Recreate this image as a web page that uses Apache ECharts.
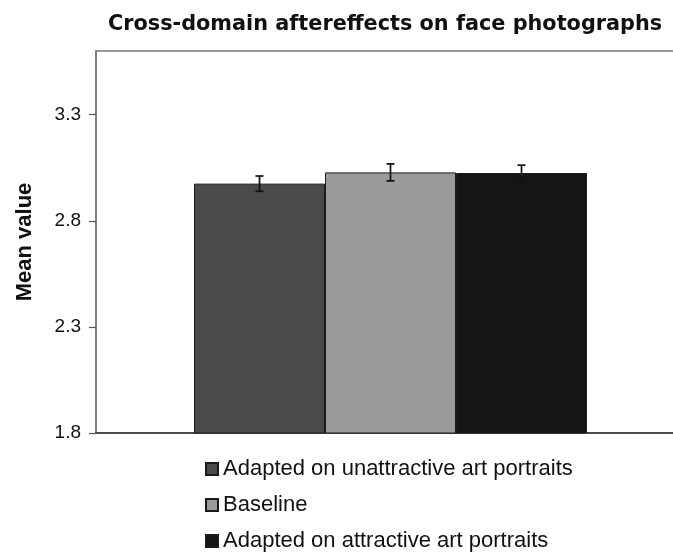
<!DOCTYPE html>
<html>
<head>
<meta charset="utf-8">
<script src="https://cdn.jsdelivr.net/npm/echarts@6/dist/echarts.min.js"></script>
<style>
  html, body { margin: 0; padding: 0; background: #fff; }
  #chart { width: 673px; height: 552px; }
</style>
</head>
<body>
<div id="chart"></div>
<script>
// data
const categories = ['Cross-domain']
const seriesNames = [
  'Adapted on unattractive art portraits',
  'Baseline',
  'Adapted on attractive art portraits',
]
const means = [2.975, 3.028, 3.025]
const errors = [0.036, 0.04, 0.037]
const barColors = ['#4a4a4a', '#9a9a9a', '#151515']
const yTicks = [1.8, 2.3, 2.8, 3.3]

const barWidth = 131

const chart = echarts.init(document.getElementById('chart'))

const barSeries = seriesNames.map((name, i) => ({
  name: name,
  type: 'bar',
  data: [means[i]],
  barWidth: barWidth,
  barGap: 0,
  itemStyle: {
    color: barColors[i],
    borderColor: '#1a1a1a',
    borderWidth: 1,
  },
}))

// error bars, one per bar, placed by offset from the category centre
const errorData = means.map((m, i) => [0, m - errors[i], m + errors[i], i])

const errorSeries = {
  type: 'custom',
  silent: true,
  data: errorData,
  renderItem: (params, api) => {
    const idx = api.value(3)
    const low = api.coord([api.value(0), api.value(1)])
    const high = api.coord([api.value(0), api.value(2)])
    const x = low[0] + (idx - 1) * barWidth
    const cap = 4
    const style = { stroke: '#111', lineWidth: 1.7 }
    return {
      type: 'group',
      children: [
        { type: 'line', shape: { x1: x, y1: low[1], x2: x, y2: high[1] }, style },
        { type: 'line', shape: { x1: x - cap, y1: low[1], x2: x + cap, y2: low[1] }, style },
        { type: 'line', shape: { x1: x - cap, y1: high[1], x2: x + cap, y2: high[1] }, style },
      ],
    }
  },
  z: 5,
}

chart.setOption({
  animation: false,
  title: {
    text: 'Cross-domain aftereffects on face photographs',
    left: 108,
    top: 14,
    padding: 0,
    textStyle: {
      fontFamily: 'DejaVu Sans',
      fontWeight: 'bold',
      fontSize: 20.8,
      color: '#111',
    },
  },
  legend: {
    orient: 'vertical',
    left: 205,
    top: 458,
    padding: 0,
    itemWidth: 12,
    itemHeight: 12,
    itemGap: 14,
    icon: 'rect',
    data: seriesNames,
    textStyle: {
      fontFamily: 'Liberation Sans',
      fontSize: 22,
      lineHeight: 22,
      color: '#111',
    },
  },
  grid: {
    left: 96,
    right: -12,
    top: 51,
    bottom: 119,
    outerBoundsMode: 'none',
    containLabel: false,
    show: true,
    borderColor: '#777',
    borderWidth: 1.5,
    backgroundColor: '#fff',
  },
  xAxis: {
    type: 'category',
    data: categories,
    axisLine: { show: true, lineStyle: { color: '#333', width: 1.5 } },
    axisTick: { show: false },
    axisLabel: { show: false },
  },
  yAxis: {
    type: 'value',
    min: 1.8,
    max: 3.6,
    name: 'Mean value',
    nameLocation: 'middle',
    nameGap: 60,
    nameTextStyle: {
      fontFamily: 'Liberation Sans',
      fontWeight: 'bold',
      fontSize: 22,
      color: '#111',
    },
    splitLine: { show: false },
    axisLine: { show: true, lineStyle: { color: '#777', width: 1.5 } },
    axisTick: {
      show: true,
      length: 7,
      customValues: yTicks,
      lineStyle: { color: '#555', width: 1.2 },
    },
    axisLabel: {
      customValues: yTicks,
      margin: 15,
      fontFamily: 'Liberation Sans',
      fontSize: 19,
      color: '#111',
      formatter: (v) => v.toFixed(1),
    },
  },
  series: [...barSeries, errorSeries],
})
</script>
</body>
</html>
